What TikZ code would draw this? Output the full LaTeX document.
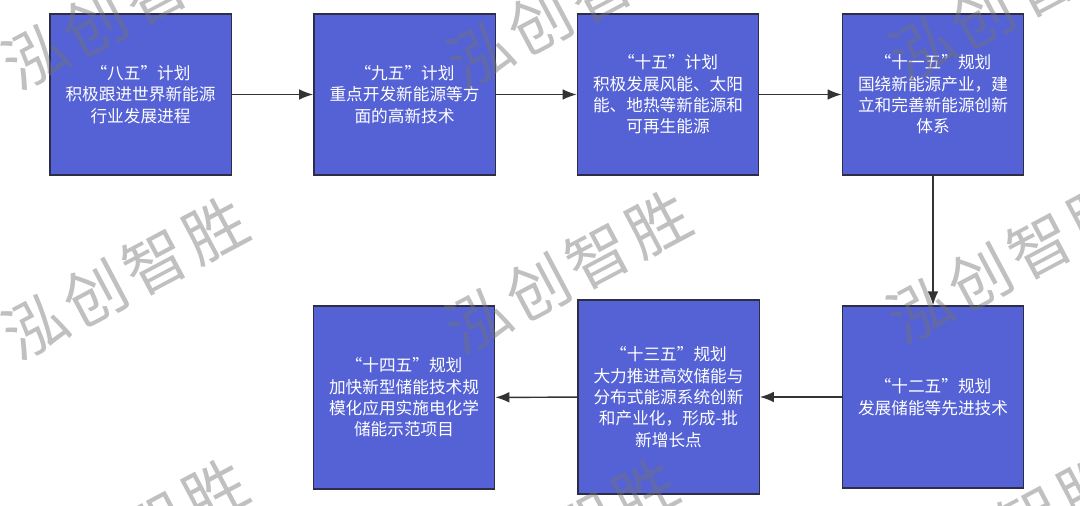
\documentclass[tikz,border=0pt]{standalone}
\usepackage{fontspec}
\setmainfont{Noto Sans CJK SC}
\usepackage{xcolor}
\usepackage{tikz}
\usetikzlibrary{arrows.meta}

\definecolor{planblue}{RGB}{85,98,214}
\definecolor{planedge}{RGB}{45,45,70}
\definecolor{planarrow}{RGB}{51,51,51}

\tikzset{
	plan/.style={draw=planedge, line width=1pt, fill=planblue, text=white,
		align=center, inner sep=0pt, minimum width=136pt, minimum height=120.75pt,
		font=\fontsize{12.5}{16}\selectfont},
	flow/.style={draw=planarrow, line width=1.1pt, -{Latex[length=10.5pt,width=8pt]}},
	wmtext/.style={text=black!55, opacity=0.45, rotate=28, inner sep=0pt,
		font=\fontsize{47}{50}\selectfont}
}

\newcommand{\wmword}{泓\hspace{4pt}创\hspace{4pt}智\hspace{4pt}胜}

\begin{document}
\begin{tikzpicture}[x=0.75pt, y=-0.75pt]

	\useasboundingbox (0,0) rectangle (1080,506);

	\node [plan] (p8) at (140.5,94.5) {“八五”计划\\积极跟进世界新能源\\行业发展进程};

	\node [plan] (p9) at (404.5,94.5) {“九五”计划\\重点开发新能源等方\\面的高新技术};

	\node [plan] (p10) at (668,94.5) {“十五”计划\\积极发展风能、太阳\\能、地热等新能源和\\可再生能源};

	\node [plan] (p11) at (933,94.5) {“十一五”规划\\国绕新能源产业，建\\立和完善新能源创新\\体系};

	\node [plan, minimum height=136.5pt] (p12) at (933,397) {“十二五”规划\\发展储能等先进技术};

	\node [plan, minimum height=145.5pt] (p13) at (668.5,397) {“十三五”规划\\大力推进高效储能与\\分布式能源系统创新\\和产业化，形成-批\\新增长点};

	\node [plan, minimum height=137.25pt] (p14) at (404,397.5) {“十四五”规划\\加快新型储能技术规\\模化应用实施电化学\\储能示范项目};

	\draw [flow] (p8) -- (p9);
	\draw [flow] (p9) -- (p10);
	\draw [flow] (p10) -- (p11);
	\draw [flow] (p11) -- (p12);
	\draw [flow] (p12) -- (p13);
	\draw [flow] (p13) -- (p14);

	% watermark
	\node [wmtext] (wm1) at (125,8) {\wmword};
	\node [wmtext] (wm2) at (570,6) {\wmword};
	\node [wmtext] (wm3) at (1012,0) {\wmword};
	\node [wmtext] (wm4) at (125,278) {\wmword};
	\node [wmtext] (wm5) at (568,272) {\wmword};
	\node [wmtext] (wm6) at (1010,262) {\wmword};
	\node [wmtext] (wm7) at (125,540) {\wmword};
	\node [wmtext] (wm8) at (555,540) {\wmword};
	\node [wmtext] (wm9) at (1000,535) {\wmword};

\end{tikzpicture}
\end{document}
